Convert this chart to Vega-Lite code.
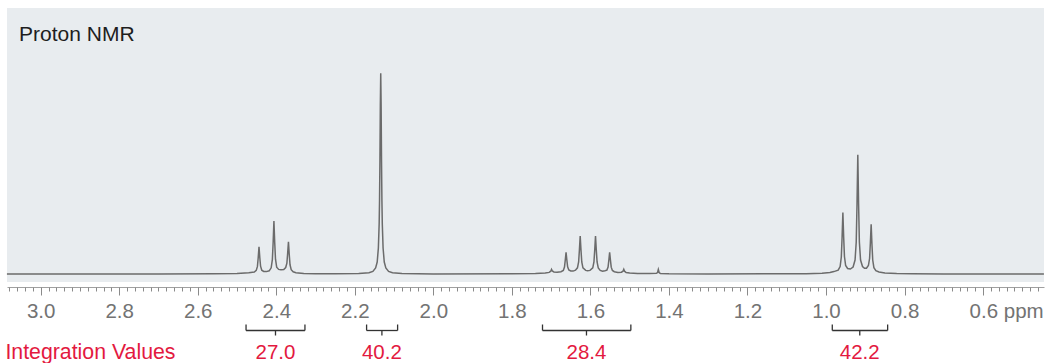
{
  "$schema": "https://vega.github.io/schema/vega-lite/v6.json",
  "width": 1037,
  "height": 274,
  "padding": {"left": 7, "top": 8, "right": 4, "bottom": 81},
  "autosize": {"type": "none"},
  "background": "white",
  "config": {"view": {"stroke": null, "fill": "#e8ecef"}},
  "datasets": {
    "spectrum": [
      {"ppm": 3.086, "intensity": 0}, {"ppm": 2.7, "intensity": 0}, {"ppm": 2.56, "intensity": 0.3}, {"ppm": 2.5, "intensity": 0.6},
      {"ppm": 2.47, "intensity": 1.2}, {"ppm": 2.456, "intensity": 1.9}, {"ppm": 2.451, "intensity": 3.6}, {"ppm": 2.448, "intensity": 7.6},
      {"ppm": 2.446, "intensity": 16.4}, {"ppm": 2.444, "intensity": 27.3}, {"ppm": 2.442, "intensity": 16.5}, {"ppm": 2.44, "intensity": 7.8},
      {"ppm": 2.437, "intensity": 3.8}, {"ppm": 2.432, "intensity": 2.6}, {"ppm": 2.425, "intensity": 2.4}, {"ppm": 2.418, "intensity": 3.2},
      {"ppm": 2.413, "intensity": 6.2}, {"ppm": 2.41, "intensity": 14.3}, {"ppm": 2.408, "intensity": 31.2}, {"ppm": 2.406, "intensity": 53},
      {"ppm": 2.404, "intensity": 31.5}, {"ppm": 2.402, "intensity": 14.8}, {"ppm": 2.399, "intensity": 6.8}, {"ppm": 2.394, "intensity": 4.6},
      {"ppm": 2.388, "intensity": 4.2}, {"ppm": 2.381, "intensity": 4.5}, {"ppm": 2.376, "intensity": 6.5}, {"ppm": 2.373, "intensity": 10.8},
      {"ppm": 2.371, "intensity": 20.8}, {"ppm": 2.369, "intensity": 32.3}, {"ppm": 2.367, "intensity": 19.5}, {"ppm": 2.365, "intensity": 9.2},
      {"ppm": 2.362, "intensity": 4.3}, {"ppm": 2.357, "intensity": 2.2}, {"ppm": 2.35, "intensity": 1.3}, {"ppm": 2.33, "intensity": 0.6},
      {"ppm": 2.3, "intensity": 0.3}, {"ppm": 2.25, "intensity": 0.2}, {"ppm": 2.19, "intensity": 0.4}, {"ppm": 2.164, "intensity": 1.2},
      {"ppm": 2.154, "intensity": 2.6}, {"ppm": 2.147, "intensity": 6}, {"ppm": 2.143, "intensity": 12}, {"ppm": 2.14, "intensity": 26},
      {"ppm": 2.138, "intensity": 50}, {"ppm": 2.137, "intensity": 74}, {"ppm": 2.136, "intensity": 114}, {"ppm": 2.135, "intensity": 169},
      {"ppm": 2.134, "intensity": 200.7}, {"ppm": 2.133, "intensity": 169}, {"ppm": 2.132, "intensity": 114}, {"ppm": 2.131, "intensity": 74},
      {"ppm": 2.13, "intensity": 50}, {"ppm": 2.128, "intensity": 26}, {"ppm": 2.125, "intensity": 12}, {"ppm": 2.121, "intensity": 6},
      {"ppm": 2.114, "intensity": 2.6}, {"ppm": 2.104, "intensity": 1.2}, {"ppm": 2.08, "intensity": 0.4}, {"ppm": 2.0, "intensity": 0.1},
      {"ppm": 1.8, "intensity": 0.2}, {"ppm": 1.74, "intensity": 0.5}, {"ppm": 1.715, "intensity": 1.0}, {"ppm": 1.705, "intensity": 1.6},
      {"ppm": 1.701, "intensity": 2.8}, {"ppm": 1.699, "intensity": 4.7}, {"ppm": 1.697, "intensity": 3.0}, {"ppm": 1.693, "intensity": 2.0},
      {"ppm": 1.685, "intensity": 1.8}, {"ppm": 1.675, "intensity": 2.3}, {"ppm": 1.669, "intensity": 3.6}, {"ppm": 1.666, "intensity": 7.0},
      {"ppm": 1.664, "intensity": 14}, {"ppm": 1.662, "intensity": 21.7}, {"ppm": 1.66, "intensity": 14}, {"ppm": 1.658, "intensity": 7.2},
      {"ppm": 1.655, "intensity": 4.0}, {"ppm": 1.65, "intensity": 3.0}, {"ppm": 1.644, "intensity": 2.9}, {"ppm": 1.638, "intensity": 3.8},
      {"ppm": 1.633, "intensity": 6.2}, {"ppm": 1.63, "intensity": 12}, {"ppm": 1.628, "intensity": 24}, {"ppm": 1.626, "intensity": 38},
      {"ppm": 1.624, "intensity": 24}, {"ppm": 1.622, "intensity": 12}, {"ppm": 1.619, "intensity": 6.2}, {"ppm": 1.612, "intensity": 3.6},
      {"ppm": 1.607, "intensity": 3.3}, {"ppm": 1.601, "intensity": 3.6}, {"ppm": 1.594, "intensity": 6.2}, {"ppm": 1.591, "intensity": 12},
      {"ppm": 1.589, "intensity": 24}, {"ppm": 1.587, "intensity": 38}, {"ppm": 1.585, "intensity": 24}, {"ppm": 1.583, "intensity": 12},
      {"ppm": 1.58, "intensity": 6.0}, {"ppm": 1.575, "intensity": 3.6}, {"ppm": 1.569, "intensity": 2.8}, {"ppm": 1.563, "intensity": 3.3},
      {"ppm": 1.558, "intensity": 3.9}, {"ppm": 1.555, "intensity": 7.0}, {"ppm": 1.553, "intensity": 14}, {"ppm": 1.551, "intensity": 21.7},
      {"ppm": 1.549, "intensity": 14}, {"ppm": 1.547, "intensity": 6.8}, {"ppm": 1.544, "intensity": 3.6}, {"ppm": 1.539, "intensity": 2.3},
      {"ppm": 1.53, "intensity": 1.6}, {"ppm": 1.521, "intensity": 1.8}, {"ppm": 1.517, "intensity": 2.8}, {"ppm": 1.515, "intensity": 4.7},
      {"ppm": 1.513, "intensity": 2.8}, {"ppm": 1.509, "intensity": 1.5}, {"ppm": 1.5, "intensity": 0.9}, {"ppm": 1.48, "intensity": 0.5},
      {"ppm": 1.45, "intensity": 0.4}, {"ppm": 1.432, "intensity": 0.7}, {"ppm": 1.429, "intensity": 1.5}, {"ppm": 1.427, "intensity": 4.5},
      {"ppm": 1.425, "intensity": 1.5}, {"ppm": 1.422, "intensity": 0.6}, {"ppm": 1.4, "intensity": 0.2}, {"ppm": 1.3, "intensity": 0.1},
      {"ppm": 1.1, "intensity": 0.2}, {"ppm": 1.05, "intensity": 0.3}, {"ppm": 1.01, "intensity": 0.8}, {"ppm": 0.99, "intensity": 1.5},
      {"ppm": 0.98, "intensity": 2.4}, {"ppm": 0.969, "intensity": 3.8}, {"ppm": 0.964, "intensity": 7.5}, {"ppm": 0.961, "intensity": 17},
      {"ppm": 0.959, "intensity": 36.8}, {"ppm": 0.957, "intensity": 61.6}, {"ppm": 0.955, "intensity": 37}, {"ppm": 0.953, "intensity": 17.5},
      {"ppm": 0.95, "intensity": 8.5}, {"ppm": 0.945, "intensity": 5.5}, {"ppm": 0.938, "intensity": 5.0}, {"ppm": 0.931, "intensity": 7.0},
      {"ppm": 0.926, "intensity": 14}, {"ppm": 0.923, "intensity": 32}, {"ppm": 0.921, "intensity": 70}, {"ppm": 0.919, "intensity": 119.3},
      {"ppm": 0.917, "intensity": 70}, {"ppm": 0.915, "intensity": 32}, {"ppm": 0.912, "intensity": 14}, {"ppm": 0.907, "intensity": 7.5},
      {"ppm": 0.902, "intensity": 5.7}, {"ppm": 0.897, "intensity": 5.8}, {"ppm": 0.892, "intensity": 8.5}, {"ppm": 0.889, "intensity": 15.5},
      {"ppm": 0.887, "intensity": 31}, {"ppm": 0.885, "intensity": 49.8}, {"ppm": 0.883, "intensity": 30}, {"ppm": 0.881, "intensity": 14},
      {"ppm": 0.878, "intensity": 6.3}, {"ppm": 0.873, "intensity": 3.3}, {"ppm": 0.865, "intensity": 2.0}, {"ppm": 0.85, "intensity": 1.1},
      {"ppm": 0.82, "intensity": 0.5}, {"ppm": 0.78, "intensity": 0.2}, {"ppm": 0.7, "intensity": 0.1}, {"ppm": 0.445, "intensity": 0}
    ],
    "brackets": [
      {"value": "27.0", "start": 2.477, "end": 2.327, "center": 2.402},
      {"value": "40.2", "start": 2.17, "end": 2.091, "center": 2.131},
      {"value": "28.4", "start": 1.722, "end": 1.497, "center": 1.61},
      {"value": "42.2", "start": 0.984, "end": 0.843, "center": 0.914}
    ],
    "labels": [
      {"label": "Proton NMR"}
    ],
    "legendText": [
      {"label": "Integration Values"}
    ]
  },
  "resolve": {"axis": {"x": "independent"}},
  "layer": [
    {
      "data": {"name": "spectrum"},
      "mark": {"type": "line", "color": "#6b6b6b", "strokeWidth": 1.5, "interpolate": "linear"},
      "encoding": {
        "x": {
          "field": "ppm", "type": "quantitative",
          "scale": {"domain": [0.4448, 3.0858], "reverse": true, "nice": false, "zero": false},
          "axis": {
            "orient": "bottom", "offset": 5, "title": null, "grid": false,
            "values": [3.0, 2.8, 2.6, 2.4, 2.2, 2.0, 1.8, 1.6, 1.4, 1.2, 1.0, 0.8, 0.6],
            "domain": true, "domainColor": "#a0a0a0", "domainWidth": 1,
            "ticks": true, "tickColor": "#8a8a8a", "tickSize": 8, "tickWidth": 1,
            "labelFont": "Liberation Sans", "labelFontSize": 20.5, "labelColor": "#737373",
            "labelBaseline": "alphabetic", "labelPadding": 22,
            "labelOverlap": false, "labelFlush": false,
            "labelExpr": "datum.value < 0.65 ? '0.6 ppm' : format(datum.value, '.1f')",
            "labelAlign": {"condition": {"test": "datum.value < 0.65", "value": "left"}, "value": "center"},
            "labelOffset": {"condition": {"test": "datum.value < 0.65", "value": -14}, "value": 0}
          }
        },
        "y": {
          "field": "intensity", "type": "quantitative",
          "scale": {"domain": [-8, 266], "nice": false, "zero": false},
          "axis": null
        }
      }
    },
    {
      "data": {"name": "brackets"},
      "mark": {"type": "rule", "color": "#333333", "strokeWidth": 1.3},
      "encoding": {
        "x": {
          "field": "start", "type": "quantitative",
          "scale": {"domain": [0.4448, 3.0858], "reverse": true, "nice": false, "zero": false},
          "axis": {
            "orient": "bottom", "offset": 5, "title": null, "grid": false,
            "tickCount": 130, "labels": false, "domain": false,
            "ticks": true, "tickColor": "#8a8a8a", "tickSize": 4, "tickWidth": 1
          }
        },
        "x2": {"field": "end"},
        "y": {"datum": -56.5, "type": "quantitative", "scale": {"domain": [-8, 266], "nice": false, "zero": false}, "axis": null}
      }
    },
    {
      "data": {"name": "brackets"},
      "mark": {"type": "rule", "color": "#333333", "strokeWidth": 1.3},
      "encoding": {
        "x": {"field": "start", "type": "quantitative", "scale": {"domain": [0.4448, 3.0858], "reverse": true, "nice": false, "zero": false}, "axis": null},
        "y": {"datum": -50.5, "type": "quantitative", "scale": {"domain": [-8, 266], "nice": false, "zero": false}, "axis": null},
        "y2": {"datum": -56.5}
      }
    },
    {
      "data": {"name": "brackets"},
      "mark": {"type": "rule", "color": "#333333", "strokeWidth": 1.3},
      "encoding": {
        "x": {"field": "end", "type": "quantitative", "scale": {"domain": [0.4448, 3.0858], "reverse": true, "nice": false, "zero": false}, "axis": null},
        "y": {"datum": -50.5, "type": "quantitative", "scale": {"domain": [-8, 266], "nice": false, "zero": false}, "axis": null},
        "y2": {"datum": -56.5}
      }
    },
    {
      "data": {"name": "brackets"},
      "mark": {"type": "rule", "color": "#333333", "strokeWidth": 1.3},
      "encoding": {
        "x": {"field": "center", "type": "quantitative", "scale": {"domain": [0.4448, 3.0858], "reverse": true, "nice": false, "zero": false}, "axis": null},
        "y": {"datum": -56.5, "type": "quantitative", "scale": {"domain": [-8, 266], "nice": false, "zero": false}, "axis": null},
        "y2": {"datum": -61.5}
      }
    },
    {
      "data": {"name": "brackets"},
      "mark": {"type": "text", "color": "#e3193f", "font": "Liberation Sans", "fontSize": 20.5, "align": "center", "baseline": "alphabetic"},
      "encoding": {
        "x": {"field": "center", "type": "quantitative", "scale": {"domain": [0.4448, 3.0858], "reverse": true, "nice": false, "zero": false}, "axis": null},
        "y": {"datum": -85.3, "type": "quantitative", "scale": {"domain": [-8, 266], "nice": false, "zero": false}, "axis": null},
        "text": {"field": "value"}
      }
    },
    {
      "data": {"name": "legendText"},
      "mark": {"type": "text", "color": "#e3193f", "font": "Liberation Sans", "fontSize": 21.3, "align": "left", "baseline": "alphabetic"},
      "encoding": {
        "x": {"datum": 3.0899, "type": "quantitative", "scale": {"domain": [0.4448, 3.0858], "reverse": true, "nice": false, "zero": false}, "axis": null},
        "y": {"datum": -85.3, "type": "quantitative", "scale": {"domain": [-8, 266], "nice": false, "zero": false}, "axis": null},
        "text": {"field": "label"}
      }
    },
    {
      "data": {"name": "labels"},
      "mark": {"type": "text", "color": "#1e1e1e", "font": "Liberation Sans", "fontSize": 21, "align": "left", "baseline": "alphabetic"},
      "encoding": {
        "x": {"datum": 3.055, "type": "quantitative", "scale": {"domain": [0.4448, 3.0858], "reverse": true, "nice": false, "zero": false}, "axis": null},
        "y": {"datum": 233, "type": "quantitative", "scale": {"domain": [-8, 266], "nice": false, "zero": false}, "axis": null},
        "text": {"field": "label"}
      }
    }
  ]
}
